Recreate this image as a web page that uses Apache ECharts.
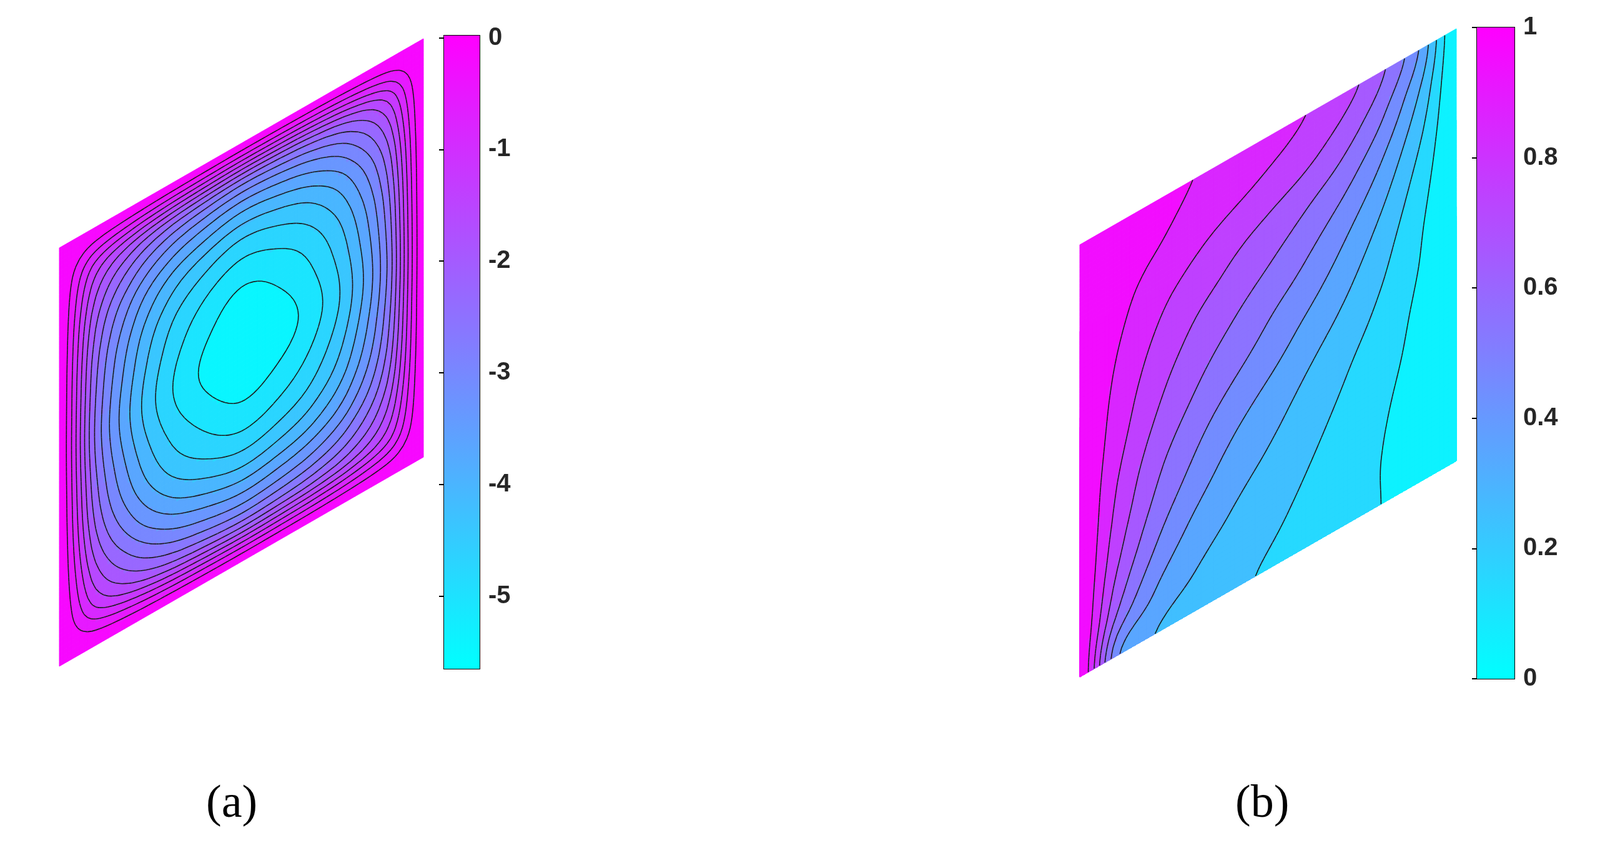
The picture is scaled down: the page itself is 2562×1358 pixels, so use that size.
<!DOCTYPE html>
<html><head><meta charset="utf-8">
<script src="https://cdn.jsdelivr.net/npm/echarts@6/dist/echarts.min.js"></script>
<style>html,body{margin:0;padding:0;background:#fff}#c{width:2562px;height:1358px}</style>
</head><body><div id="c"></div>
<script>
// stream function grid, rows t=0..1 (bottom->top), cols s=0..1 (left->right)
const psiGrid = [
 [0,0,0,0,0,0,0,0,0,0,0],
 [0,-1.13,-1.76,-2.17,-2.39,-2.52,-2.44,-2.27,-1.92,-1.26,0],
 [0,-1.76,-2.74,-3.37,-3.72,-3.92,-3.80,-3.53,-2.98,-1.96,0],
 [0,-2.17,-3.37,-4.15,-4.58,-4.82,-4.67,-4.33,-3.66,-2.41,0],
 [0,-2.39,-3.72,-4.58,-5.05,-5.32,-5.16,-4.79,-4.05,-2.66,0],
 [0,-2.52,-3.92,-4.82,-5.32,-5.60,-5.43,-5.04,-4.26,-2.80,0],
 [0,-2.44,-3.80,-4.68,-5.16,-5.43,-5.27,-4.89,-4.13,-2.72,0],
 [0,-2.27,-3.53,-4.34,-4.79,-5.04,-4.89,-4.54,-3.83,-2.52,0],
 [0,-1.92,-2.98,-3.66,-4.04,-4.26,-4.13,-3.83,-3.24,-2.13,0],
 [0,-1.26,-1.96,-2.41,-2.66,-2.80,-2.72,-2.52,-2.13,-1.40,0],
 [0,0,0,0,0,0,0,0,0,0,0]
];
// temperature grid
const tempGrid = [
 [1,.42,.30,.25,.22,.19,.16,.13,.10,.07,0],
 [1,.60,.40,.31,.26,.22,.18,.14,.10,.06,0],
 [1,.70,.50,.38,.31,.26,.21,.16,.11,.06,0],
 [1,.76,.58,.46,.37,.31,.25,.19,.13,.07,0],
 [1,.80,.64,.53,.44,.37,.30,.23,.16,.08,0],
 [1,.84,.70,.60,.52,.45,.37,.29,.20,.10,0],
 [1,.87,.75,.66,.59,.52,.45,.36,.25,.12,0],
 [1,.90,.80,.72,.66,.60,.53,.44,.32,.16,0],
 [1,.93,.85,.79,.73,.68,.62,.54,.41,.22,0],
 [1,.96,.91,.86,.82,.78,.73,.65,.52,.30,0],
 [1,.98,.94,.90,.87,.84,.80,.74,.62,.40,0]
];
const psiLevels = [-5.25,-4.9,-4.55,-4.2,-3.85,-3.5,-3.15,-2.8,-2.45,-2.1,-1.75,-1.4,-1.05,-0.7,-0.35];
const tempLevels = [0.1,0.2,0.3,0.4,0.5,0.6,0.7,0.8,0.9];
const psiTicks = [0,-1,-2,-3,-4,-5];
const tempTicks = [0,0.2,0.4,0.6,0.8,1];
const psiRange = [-5.65, 0.02];
const tempRange = [0, 1];
const panelLabels = ['(a)','(b)'];

const C = Math.cos(Math.PI/6), SN = 0.5;
function cr(p0,p1,p2,p3,t){return 0.5*((2*p1)+(-p0+p2)*t+(2*p0-5*p1+4*p2-p3)*t*t+(-p0+3*p1-3*p2+p3)*t*t*t);}
function sample(G,s,t){
  const n=G.length-1, cl=k=>Math.max(0,Math.min(n,k));
  const fx=s*n, fy=t*n; const i=Math.min(Math.floor(fx),n-1), j=Math.min(Math.floor(fy),n-1);
  const dx=fx-i, dy=fy-j; const r=[];
  for(let q=-1;q<=2;q++){const row=G[cl(j+q)];r.push(cr(row[cl(i-1)],row[cl(i)],row[cl(i+1)],row[cl(i+2)],dx));}
  return cr(r[0],r[1],r[2],r[3],dy);
}
function toXY(s,t){return [s*C, s*SN+t];}
function cmap(v,rng){let u=(v-rng[0])/(rng[1]-rng[0]);u=Math.max(0,Math.min(1,u));
  const r=Math.round(255*u),g=Math.round(255*(1-u));return 'rgb('+r+','+g+',255)';}
const N=90;
function build(G,levels,rng){
  const F=[];for(let j=0;j<=N;j++){F.push([]);for(let i=0;i<=N;i++)F[j].push(sample(G,i/N,j/N));}
  const cells=[];
  const lo=Math.min(...levels), step=levels[1]-levels[0];
  for(let j=0;j<N;j++)for(let i=0;i<N;i++){
    const v=(F[j][i]+F[j][i+1]+F[j+1][i]+F[j+1][i+1])/4;
    let k=Math.floor((v-lo)/step); let mid=lo+(k+0.5)*step;
    if(k<0) mid=(rng[0]+lo)/2; if(k>=levels.length-1 && v>=levels[levels.length-1]) mid=(levels[levels.length-1]+rng[1])/2;
    cells.push({poly:[toXY(i/N,j/N),toXY((i+1)/N,j/N),toXY((i+1)/N,(j+1)/N),toXY(i/N,(j+1)/N)],color:cmap(mid,rng)});
  }
  const lines=levels.map(L=>{
    const segs=[];
    for(let j=0;j<N;j++)for(let i=0;i<N;i++){
      const P=[[i,j],[i+1,j],[i+1,j+1],[i,j+1]];const V=P.map(p=>F[p[1]][p[0]]);
      const pts=[];
      for(let e=0;e<4;e++){const a=V[e],b=V[(e+1)%4];
        if((a<L)!==(b<L)){const f=(L-a)/(b-a);const pa=P[e],pb=P[(e+1)%4];
          pts.push(toXY((pa[0]+f*(pb[0]-pa[0]))/N,(pa[1]+f*(pb[1]-pa[1]))/N));}}
      if(pts.length>=2)segs.push([pts[0],pts[1]]);
      if(pts.length===4)segs.push([pts[2],pts[3]]);
    }
    return segs;
  });
  return {cells,lines};
}
const A=build(psiGrid,psiLevels,psiRange), B=build(tempGrid,tempLevels,tempRange);

const grids=[
 {left:95,top:62,width:583,height:1005},
 {left:1729,top:46,width:603,height:1038},
 {left:711,top:57,width:57,height:1014,show:true,borderColor:'#000',borderWidth:2},
 {left:2365,top:44,width:60,height:1043,show:true,borderColor:'#000',borderWidth:2}
];
const xAxes=grids.map((g,k)=>({gridIndex:k,type:'value',min:0,max:k<2?C:1,show:false}));
const lab={fontSize:40,fontWeight:'bold',color:'#262626',fontFamily:'Liberation Sans, Arial',margin:14};
const yAxes=[
 {gridIndex:0,type:'value',min:0,max:1.5,show:false},
 {gridIndex:1,type:'value',min:0,max:1.5,show:false},
 {gridIndex:2,type:'value',min:psiRange[0],max:psiRange[1],position:'right',
  axisLine:{show:true,lineStyle:{color:'#000',width:2}},splitLine:{show:false},
  axisTick:{inside:true,length:8,lineStyle:{color:'#000',width:2},customValues:psiTicks},
  axisLabel:Object.assign({customValues:psiTicks,formatter:v=>String(v)},lab)},
 {gridIndex:3,type:'value',min:tempRange[0],max:tempRange[1],position:'right',
  axisLine:{show:true,lineStyle:{color:'#000',width:2}},splitLine:{show:false},
  axisTick:{inside:true,length:8,lineStyle:{color:'#000',width:2},customValues:tempTicks},
  axisLabel:Object.assign({customValues:tempTicks,formatter:v=>String(v)},lab)}
];
function cellSeries(D,k){return {type:'custom',xAxisIndex:k,yAxisIndex:k,silent:true,clip:false,
  data:D.cells.map((c,i)=>[c.poly[0][0],c.poly[0][1],i]),encode:{x:0,y:1},
  renderItem:(p,api)=>{const c=D.cells[p.dataIndex];
    return {type:'polygon',shape:{points:c.poly.map(q=>api.coord(q))},style:{fill:c.color,stroke:c.color,lineWidth:1}};}};}
function lineSeries(D,k){return {type:'custom',xAxisIndex:k,yAxisIndex:k,silent:true,clip:false,z:5,
  data:D.lines.map((l,i)=>[0,0,i]),encode:{x:0,y:1},
  renderItem:(p,api)=>({type:'group',children:D.lines[p.dataIndex].map(sg=>{const a=api.coord(sg[0]),b=api.coord(sg[1]);
    return {type:'line',shape:{x1:a[0],y1:a[1],x2:b[0],y2:b[1]},style:{stroke:'#1a1a1a',lineWidth:1.6}};})})};}
function barSeries(k,rng){return {type:'custom',xAxisIndex:k,yAxisIndex:k,silent:true,clip:false,
  data:[[0,rng[1]]],encode:{x:0,y:1},
  renderItem:(p,api)=>{const a=api.coord([0,rng[1]]),b=api.coord([1,rng[0]]);
    return {type:'rect',shape:{x:a[0],y:a[1],width:b[0]-a[0],height:b[1]-a[1]},
      style:{fill:new echarts.graphic.LinearGradient(0,0,0,1,[{offset:0,color:cmap(rng[1],rng)},{offset:1,color:cmap(rng[0],rng)}])}};}};}
const chart=echarts.init(document.getElementById('c'));
chart.setOption({animation:false,backgroundColor:'#fff',grid:grids,xAxis:xAxes,yAxis:yAxes,
 series:[cellSeries(A,0),lineSeries(A,0),cellSeries(B,1),lineSeries(B,1),barSeries(2,psiRange),barSeries(3,tempRange)],
 graphic:[
  {type:'text',left:330,top:1252,style:{text:panelLabels[0],fontSize:74,fontFamily:'Liberation Serif, Times New Roman',fill:'#000'}},
  {type:'text',left:1978,top:1252,style:{text:panelLabels[1],fontSize:74,fontFamily:'Liberation Serif, Times New Roman',fill:'#000'}}
 ]});
</script></body></html>
